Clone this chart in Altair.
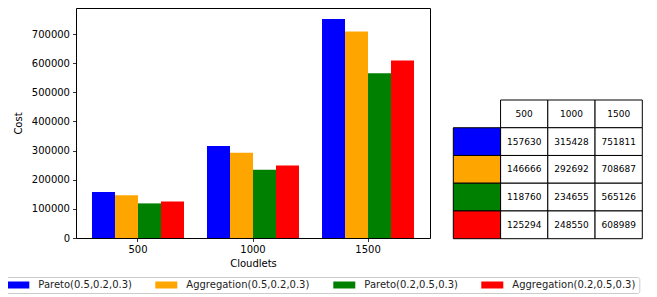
import altair as alt
import pandas as pd

categories = ["500", "1000", "1500"]
series = ["Pareto(0.5,0.2,0.3)", "Aggregation(0.5,0.2,0.3)",
          "Pareto(0.2,0.5,0.3)", "Aggregation(0.2,0.5,0.3)"]
pareto_a = [157630, 315428, 751811]
aggr_a = [146666, 292692, 708687]
pareto_b = [118760, 234655, 565126]
aggr_b = [125294, 248550, 608989]
colors = ["#0000ff", "#ffa500", "#008000", "#ff0000"]

all_vals = [pareto_a, aggr_a, pareto_b, aggr_b]
rows = []
for s, vals in zip(series, all_vals):
    for c, v in zip(categories, vals):
        rows.append({"Cloudlets": c, "series": s, "Cost": v})
df = pd.DataFrame(rows)

# table data
tcols = ["color"] + categories
trows = ["header"] + series
cells = []
for c in categories:
    cells.append({"col": c, "row": "header", "text": c})
for s, vals in zip(series, all_vals):
    for c, v in zip(categories, vals):
        cells.append({"col": c, "row": s, "text": str(v)})
cells_df = pd.DataFrame(cells)
color_df = pd.DataFrame({"col": ["color"] * 4, "row": series, "series": series})

color_scale = alt.Scale(domain=series, range=colors)

W, H = 354, 230
ymax = max(max(v) for v in all_vals) * 1.05

bars = alt.Chart(df).mark_bar(opacity=1).encode(
    x=alt.X("Cloudlets:N", sort=categories,
            scale=alt.Scale(paddingInner=0.2, paddingOuter=0.139),
            axis=alt.Axis(title="Cloudlets", labelAngle=0)),
    xOffset=alt.XOffset("series:N", sort=series, scale=alt.Scale(paddingInner=0, paddingOuter=0)),
    y=alt.Y("Cost:Q", scale=alt.Scale(domain=[0, ymax], nice=False, zero=True),
            axis=alt.Axis(title="Cost", values=list(range(0, 800000, 100000)), format="d")),
    color=alt.Color("series:N", scale=color_scale, sort=series,
                    legend=alt.Legend(title=None)),
)

tx = alt.X("col:N", sort=tcols, axis=None,
           scale=alt.Scale(domain=tcols, range=[377.3, 566.3], paddingInner=0, paddingOuter=0))
ty = alt.Y("row:N", sort=trows, axis=None,
           scale=alt.Scale(domain=trows, range=[92, 230.7], paddingInner=0, paddingOuter=0))

white_cells = alt.Chart(cells_df).mark_rect(fill="white", stroke="black", strokeWidth=1).encode(x=tx, y=ty)
color_cells = alt.Chart(color_df).mark_rect(stroke="black", strokeWidth=1, opacity=1).encode(
    x=tx, y=ty, color=alt.Color("series:N", scale=color_scale, sort=series, legend=alt.Legend(title=None)))
text_cells = alt.Chart(cells_df).mark_text(font="DejaVu Sans", fontSize=9, color="black").encode(
    x=tx, y=ty, text="text:N")

table = alt.layer(white_cells, color_cells, text_cells)

chart = alt.layer(bars, table).resolve_scale(x="independent", y="independent").properties(
    width=W, height=H,
    autosize=alt.AutoSizeParams(type="none"),
    padding={"left": 68, "top": 0, "right": 219, "bottom": 58},
).configure_view(stroke="black", strokeWidth=1).configure_axis(
    grid=False, domain=False, tickColor="black", tickSize=3.5, tickWidth=0.8,
    labelFont="DejaVu Sans", labelFontSize=10, labelColor="black", labelPadding=3,
    titleFont="DejaVu Sans", titleFontSize=10, titleFontWeight="normal", titleColor="black",
).configure_axisX(titlePadding=4).configure_axisY(titlePadding=8).configure_legend(
    orient="none", legendX=-71.7, legendY=269, direction="horizontal",
    columns=4, gridAlign="none",
    symbolType="M-1,-0.7H3.4V0.7H-1Z", symbolSize=100, symbolStrokeWidth=0,
    symbolOpacity=1, labelOffset=21, columnPadding=23,
    labelFont="DejaVu Sans", labelFontSize=10, labelColor="#222222",
    padding=3, strokeColor="#cccccc", fillColor="white", cornerRadius=2,
)

chart.save("out.html", embed_options={"renderer": "svg", "actions": False})
